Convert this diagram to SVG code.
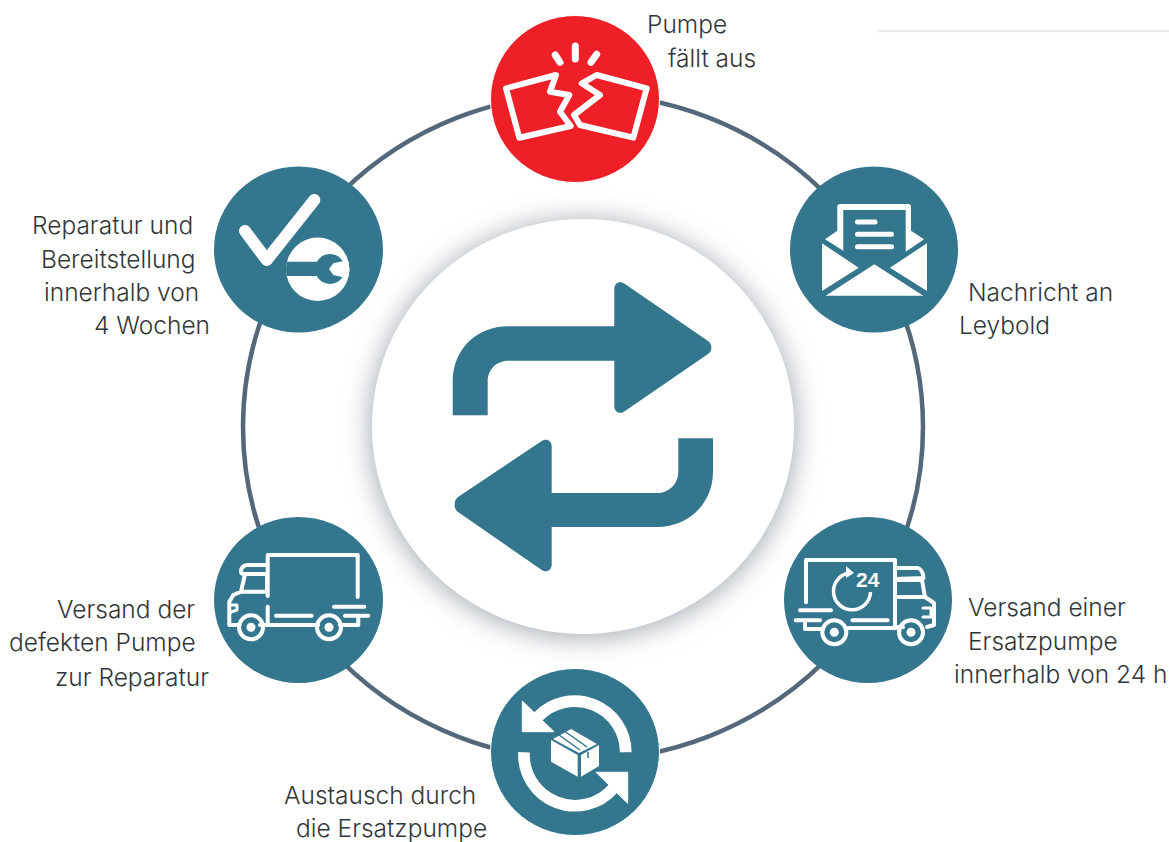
<svg xmlns="http://www.w3.org/2000/svg" width="1169" height="842" viewBox="0 0 1169 842">
<style>
.t{font-family:"Inter","Liberation Sans",Arial,sans-serif;font-weight:300;font-size:24.5px;fill:#333639}
.n{fill:#33768e}
.w{fill:#fff}
.s{fill:none;stroke:#fff;stroke-width:4;stroke-linecap:round;stroke-linejoin:round}
</style>
<defs>
<filter id="sh" x="-20%" y="-20%" width="140%" height="140%"><feGaussianBlur stdDeviation="13"/></filter>
<clipPath id="disc"><circle cx="317.7" cy="269.3" r="31.7"/></clipPath>
</defs>
<rect width="1169" height="842" fill="#fff"/>
<path d="M878 31H1169" stroke="#e9ecee" stroke-width="2.500" fill="none"/>
<g id="connectors"><ellipse cx="583" cy="427" rx="340" ry="333" fill="none" stroke="#55677b" stroke-width="4.500"/></g>
<g id="center">
<ellipse cx="583" cy="429" rx="214" ry="210" fill="#a9b1b8" filter="url(#sh)"/>
<ellipse cx="583" cy="426.500" rx="211" ry="207.500" fill="#fff"/>
<path class="n" d="M452.700 415.300V381.700C452.700 350 476 326.300 508.300 326.300H614.300V289C614.300 283 620 280 625 284L708 341C712.500 344 712.500 351 708 354L625 411C620 415 614.300 412 614.300 406V360.700H508.300C496 360.700 487.700 370 487.700 381.700V415.300Z"/>
<path class="n" d="M713 438.300V471.700C713 503 689 527 656.700 527H551.700V564.500C551.700 570.500 546 573.500 541 569.500L458 512C453.500 509 453.500 500 458 497L541 441.500C546 437.500 551.700 440.500 551.700 446.500V493H656.700C669 493 678.300 484 678.300 471.700V438.300Z"/>
</g>
<g id="node-pumpe">
<ellipse cx="575" cy="99" rx="84.500" ry="83.500" fill="#ef1f27" stroke="#fff" stroke-width="1"/>
<g fill="none" stroke="#fff" stroke-width="6" stroke-linejoin="round" stroke-linecap="round">
<path d="M556 75L506 88.300L519.300 137.700L570.700 126L560 111.700L569.300 95L550 91.700Z"/>
<path d="M596.700 75L646.700 88.300L633.300 137.700L580 125L574 115L600 95L581.700 83.300Z"/>
</g>
<path d="M555.300 55L560 62.300M575.300 46V59M596.700 54.300L591 62.300" stroke="#fff" stroke-width="7" stroke-linecap="round" fill="none"/>
<text class="t" x="647" y="33">Pumpe</text><text class="t" x="668" y="67">fällt aus</text>
</g>
<g id="node-nachricht">
<ellipse class="n" cx="874" cy="249.500" rx="84" ry="83"/>
<path class="w" d="M825 239.300L837.300 230.700V206.700Q837.300 204 840 204H908.300Q911 204 911 206.700V230.700L924 239.300L905.700 251.700V210H843.300V250.700Z"/>
<path d="M857.500 222H875M857.500 234.300H891.500M857.500 246.700H891.500" stroke="#fff" stroke-width="5" stroke-linecap="round" fill="none"/>
<path class="w" d="M822 243.300L858.700 267.700L822 291ZM927 243.300L890 267.700L927 291ZM874.300 264.300L923.300 295.700H825.700Z"/>
<text class="t" x="968" y="301">Nachricht an</text><text class="t" x="959" y="334">Leybold</text>
</g>
<g id="node-versand-ersatz">
<ellipse class="n" cx="868" cy="600" rx="84" ry="83"/>
<path class="s" d="M806 602.300V560H895V626M895 568H918Q923 570 923.500 578L895 579M897 580H922L925 597H895M925 597L934 603V625L927 627M895 627H903M848 628H896M800 610.300H831M795.700 620.300H820M805 623.500V629H820M852.300 620.300H887.700"/>
<path class="s" d="M923 608H931V617L923 617" style="stroke-width:3"/>
<circle cx="834.300" cy="632.300" r="12" fill="none" stroke="#fff" stroke-width="4"/><circle class="w" cx="834.300" cy="632.300" r="4.500"/>
<circle cx="911" cy="632.300" r="12" fill="none" stroke="#fff" stroke-width="4"/><circle class="w" cx="911" cy="632.300" r="4.500"/>
<path d="M870.500 592A18.500 18.500 0 1 1 849 573" fill="none" stroke="#fff" stroke-width="3.500"/>
<path class="w" d="M846 566L854 573L846 578Z"/>
<text x="856" y="587" font-family="Liberation Sans,Arial,sans-serif" font-weight="700" font-size="21" fill="#fff">24</text>
<text class="t" x="968" y="616">Versand einer</text><text class="t" x="968" y="650">Ersatzpumpe</text><text class="t" x="954" y="683">innerhalb von 24 h</text>
</g>
<g id="node-austausch">
<ellipse class="n" cx="575" cy="752" rx="84.500" ry="83.500" stroke="#fff" stroke-width="1"/>
<path d="M625.700 752.300A51 51 0 0 0 538 716.700M524 752.300A51 51 0 0 0 613.300 788.300" fill="none" stroke="#fff" stroke-width="11.700"/>
<path class="w" d="M522.300 701V731.700H554ZM596 772.300H627.700V803.300Z" stroke="#fff" stroke-width="1" stroke-linejoin="round"/>
<path class="w" d="M551 740L577.700 755V776.700L551 761.700ZM581 755L599 745V766L581 776.700ZM553 739L571 729L597 744L579 753Z"/>
<path d="M559 735L580 750M565 731.500L587 747M588 752V758" stroke="#33768e" stroke-width="1.500" fill="none"/>
<text class="t" x="284" y="804">Austausch durch</text><text class="t" x="296" y="837">die Ersatzpumpe</text>
</g>
<g id="node-versand-defekt">
<ellipse class="n" cx="298.500" cy="600" rx="84.500" ry="83"/>
<path class="s" d="M267.700 596V555H357.700V597M334 606.700H364.300M345 615.700H368.300M276 615.700H311.700M267.700 606.700V625M260 625H318M340 625H358.300V617M266.700 565H246.700Q241 566 241 572Q241 574 245 574H266.700M267 574V591.700M245 574L241 591.700H267M241 591.700L233.300 595L229.300 601.700V625H238"/>
<path class="s" d="M231 605H237V610L231 612" style="stroke-width:3"/>
<circle cx="251" cy="627.300" r="12" fill="none" stroke="#fff" stroke-width="4"/><circle class="w" cx="251" cy="627.300" r="4.500"/>
<circle cx="329" cy="627.300" r="12" fill="none" stroke="#fff" stroke-width="4"/><circle class="w" cx="329" cy="627.300" r="4.500"/>
<text class="t" x="57" y="618">Versand der</text><text class="t" x="9" y="651">defekten Pumpe</text><text class="t" x="55" y="686">zur Reparatur</text>
</g>
<g id="node-reparatur">
<ellipse class="n" cx="298.500" cy="249.500" rx="84.500" ry="83"/>
<path d="M245 231L266.700 260L314.300 200" fill="none" stroke="#fff" stroke-width="12" stroke-linecap="round" stroke-linejoin="round"/>
<circle class="w" cx="317.700" cy="269.300" r="31.700"/>
<g clip-path="url(#disc)">
<path class="n" d="M280 261.700H316.700V276H280Z"/>
<circle class="n" cx="330" cy="269" r="15"/>
<path class="w" d="M329 269L333.300 263.300L343.300 261H352V277.300H343.300L333.300 275Z"/>
</g>
<text class="t" x="32" y="234">Reparatur und</text><text class="t" x="41" y="268">Bereitstellung</text><text class="t" x="44" y="301">innerhalb von</text><text class="t" x="94" y="334">4 Wochen</text>
</g>
</svg>
